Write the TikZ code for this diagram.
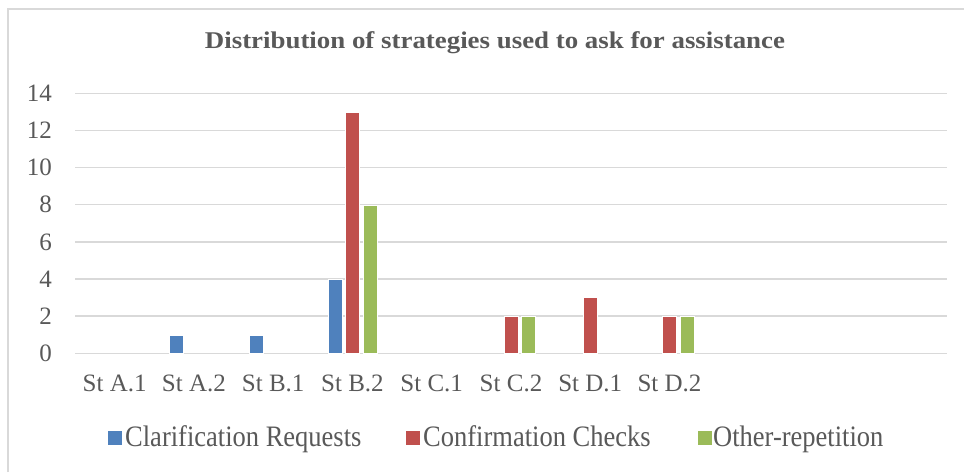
\documentclass[tikz,border=0pt]{standalone}
\usepackage{fontspec}
\setmainfont{Liberation Serif}
\definecolor{txt}{HTML}{595959}
\definecolor{gridc}{HTML}{D9D9D9}
\definecolor{cblue}{HTML}{4F81BD}
\definecolor{cred}{HTML}{C0504D}
\definecolor{cgreen}{HTML}{9BBB59}
\begin{document}
\begin{tikzpicture}[x=1pt,y=-1pt,
  gridline/.style={draw=gridc,line width=1.5pt},
  ticklbl/.style={text=txt,font=\fontsize{25}{29}\selectfont,inner sep=0pt},
  leglbl/.style={text=txt,font=\fontsize{26.5}{30}\selectfont,inner sep=0pt,anchor=base west},
  titlelbl/.style={text=txt,font=\fontsize{24}{28}\selectfont\bfseries,inner sep=0pt},
  bar/.style={draw=white,line width=0.4pt}]
\useasboundingbox (0,0) rectangle (964,472);
\fill[white] (0,0) rectangle (964,472);
\draw[draw=gridc,line width=1.2pt] (8,472) -- (8,9) -- (964,9);
\node[titlelbl] (title) at (495,43) {\scalebox{1.12}[1]{Distribution of strategies used to ask for assistance}};
% gridlines and y labels
\foreach \v in {0,2,...,14}{
  \pgfmathsetmacro{\yy}{353.3-18.57*\v}
  \draw[gridline] (75,\yy) -- (947,\yy);
  \node[ticklbl,anchor=east] (y\v) at (52,\yy) {\v};
}
% categories
\def\cw{79.27}
\foreach \lab [count=\i from 0] in {St A.1,St A.2,St B.1,St B.2,St C.1,St C.2,St D.1,St D.2}{
  \pgfmathsetmacro{\cx}{75+\cw*(\i+0.5)}
  \node[ticklbl,anchor=base] (x\i) at (\cx,391) {\lab};
}
% bars: category index, blue, red, green
\foreach \i/\b/\r/\g in {0/0/0/0,1/1/0/0,2/1/0/0,3/4/13/8,4/0/0/0,5/0/2/2,6/0/3/0,7/0/2/2}{
  \pgfmathsetmacro{\cx}{75+\cw*(\i+0.5)}
  \ifnum\b>0 \fill[cblue,bar] (\cx-24.3,353.3) rectangle (\cx-10.3,353.3-18.57*\b);\fi
  \ifnum\r>0 \fill[cred,bar] (\cx-7,353.3) rectangle (\cx+7,353.3-18.57*\r);\fi
  \ifnum\g>0 \fill[cgreen,bar] (\cx+10.3,353.3) rectangle (\cx+24.3,353.3-18.57*\g);\fi
}
% legend
\fill[cblue] (108,431) rectangle (122,445);
\node[leglbl] (l1) at (125,446) {\scalebox{1}[1.12]{Clarification Requests}};
\fill[cred] (406,431) rectangle (420,445);
\node[leglbl] (l2) at (423,446) {\scalebox{1}[1.12]{Confirmation Checks}};
\fill[cgreen] (698,431) rectangle (712,445);
\node[leglbl] (l3) at (713,446) {\scalebox{1}[1.12]{Other-repetition}};
\end{tikzpicture}
\end{document}
